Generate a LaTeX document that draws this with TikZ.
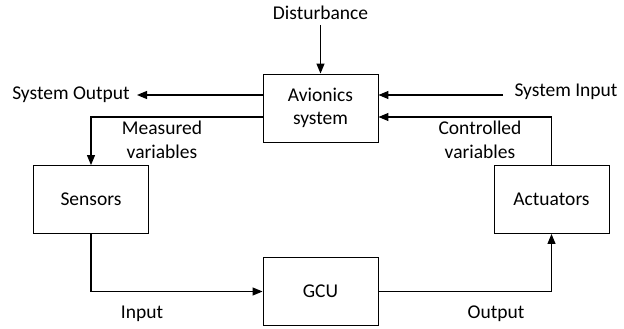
\documentclass[tikz,border=0pt]{standalone}
\usepackage{fontspec}
\setmainfont{Carlito}
\usetikzlibrary{arrows.meta}
\begin{document}
\begin{tikzpicture}[x=1pt,y=-1pt,
  blk/.style={draw, line width=0.9pt, minimum width=115pt, minimum height=68pt, inner sep=0pt, align=center, font=\fontsize{19.5}{23}\selectfont},
  lbl/.style={inner sep=0pt, align=center, font=\fontsize{19.5}{24}\selectfont},
  flow/.style={line width=1.1pt, -{Triangle[length=10pt,width=8pt]}}]
\useasboundingbox (0,0) rectangle (624,329);
% blocks
\node[blk] (av) at (320.5,108) {Avionics\\system};
\node[blk] (sen) at (91,199.5) {Sensors};
\node[blk] (act) at (551.5,199.5) {Actuators};
\node[blk] (gcu) at (320.5,291.5) {GCU};
% labels
\node[lbl] (dist) at (320.5,13) {Disturbance};
\node[lbl] (sout) at (71,95) {System Output};
\node[lbl] (sin) at (566,92) {System Input};
\node[lbl] (meas) at (162,140) {Measured\\variables};
\node[lbl] (ctrl) at (480,140) {Controlled\\variables};
\node[lbl] (inp) at (142,314) {Input};
\node[lbl] (outp) at (496,314) {Output};
% end points of the open arrows
\coordinate (dtop) at (320.5,25);
\coordinate (soend) at (137,95);
\coordinate (sistart) at (503,95);
% connectors
\draw[flow] (dtop) -- (av.north);
\draw[flow] (av.west |- soend) -- (soend);
\draw[flow] (sistart) -- (av.east |- sistart);
\draw[flow] (av.west |- 0,117) -| (sen.north);
\draw[flow] (act.north) |- (av.east |- 0,117);
\draw[flow] (sen.south) |- (gcu.west);
\draw[flow] (gcu.east) -| (act.south);
\end{tikzpicture}
\end{document}
